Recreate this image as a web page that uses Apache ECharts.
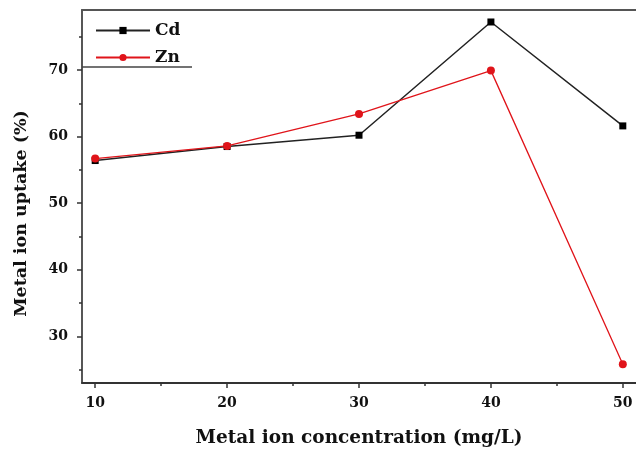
<!DOCTYPE html>
<html>
<head>
<meta charset="utf-8">
<script src="https://cdn.jsdelivr.net/npm/echarts@6/dist/echarts.min.js"></script>
<style>html,body{margin:0;padding:0;background:#fff;}#c{width:636px;height:459px;}</style>
</head>
<body>
<div id="c"></div>
<script>
const concentrations = [10, 20, 30, 40, 50];
const cdUptake = [56.4, 58.5, 60.2, 77.2, 61.6];
const znUptake = [56.7, 58.6, 63.4, 69.9, 25.8];
const xMajorTicks = [10, 20, 30, 40, 50];
const xMinorTicks = [15, 25, 35, 45];
const yMajorTicks = [30, 40, 50, 60, 70];
const yMinorTicks = [25, 35, 45, 55, 65, 75];

const font = '"DejaVu Serif", "Liberation Serif", serif';
const chart = echarts.init(document.getElementById('c'));
const pair = (xs, ys) => xs.map((x, i) => [x, ys[i]]);

chart.setOption({
  animation: false,
  backgroundColor: '#fff',
  grid: { left: 82, top: 10, width: 556, height: 373 },
  legend: {
    left: 90, top: 17, orient: 'vertical', itemWidth: 54, itemHeight: 9, itemGap: 10,
    textStyle: { fontFamily: font, fontWeight: 'bold', fontSize: 17, color: '#111' },
    data: ['Cd', 'Zn']
  },
  graphic: [{ type: 'line', shape: { x1: 82, y1: 67, x2: 192, y2: 67 }, style: { stroke: '#444', lineWidth: 1.5 } }],
  xAxis: [
    {
      type: 'value', min: 9, max: 51, position: 'bottom',
      name: 'Metal ion concentration (mg/L)', nameLocation: 'middle', nameGap: 46,
      nameTextStyle: { fontFamily: font, fontWeight: 'bold', fontSize: 18.5, color: '#111' },
      axisLine: { show: true, lineStyle: { color: '#333', width: 1.8 } },
      axisTick: { show: true, customValues: xMajorTicks, length: 5, lineStyle: { color: '#333', width: 1.5 } },
      axisLabel: { customValues: xMajorTicks, fontFamily: font, fontWeight: 'bold', fontSize: 14, color: '#111', margin: 13 },
      splitLine: { show: false }
    },
    {
      type: 'value', min: 9, max: 51, position: 'bottom',
      axisLine: { show: false },
      axisTick: { show: true, customValues: xMinorTicks, length: 3, lineStyle: { color: '#333', width: 1.5 } },
      axisLabel: { show: false }, splitLine: { show: false }
    },
    {
      type: 'value', min: 9, max: 51, position: 'top',
      axisLine: { show: true, lineStyle: { color: '#555', width: 2 } },
      axisTick: { show: false }, axisLabel: { show: false }, splitLine: { show: false }
    }
  ],
  yAxis: [
    {
      type: 'value', min: 23, max: 79, position: 'left',
      name: 'Metal ion uptake (%)', nameLocation: 'middle', nameGap: 52,
      nameTextStyle: { fontFamily: font, fontWeight: 'bold', fontSize: 17.5, color: '#111', padding: [0, 34, 0, 0] },
      axisLine: { show: true, lineStyle: { color: '#444', width: 1.8 } },
      axisTick: { show: true, customValues: yMajorTicks, length: 5, lineStyle: { color: '#333', width: 1.5 } },
      axisLabel: { customValues: yMajorTicks, fontFamily: font, fontWeight: 'bold', fontSize: 14, color: '#111', margin: 14 },
      splitLine: { show: false }
    },
    {
      type: 'value', min: 23, max: 79, position: 'left',
      axisLine: { show: false },
      axisTick: { show: true, customValues: yMinorTicks, length: 3, lineStyle: { color: '#333', width: 1.5 } },
      axisLabel: { show: false }, splitLine: { show: false }
    }
  ],
  series: [
    {
      name: 'Cd', type: 'line', data: pair(concentrations, cdUptake),
      symbol: 'rect', symbolSize: 7, color: '#000',
      lineStyle: { color: '#222', width: 1.5 }, itemStyle: { color: '#000' }
    },
    {
      name: 'Zn', type: 'line', data: pair(concentrations, znUptake),
      symbol: 'circle', symbolSize: 8, color: '#e0141a',
      lineStyle: { color: '#e0141a', width: 1.3 }, itemStyle: { color: '#e0141a' }
    }
  ]
});
</script>
</body>
</html>
